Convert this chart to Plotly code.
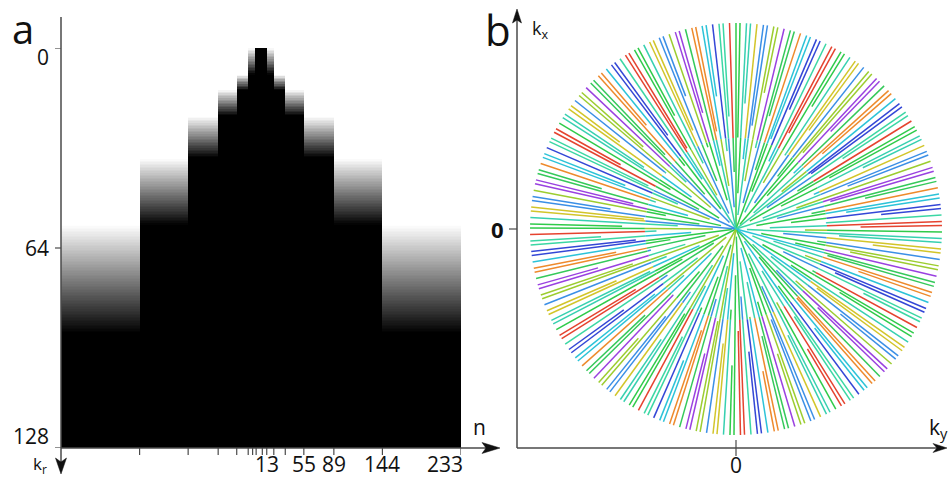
import numpy as np
import plotly.graph_objects as go

W, H = 948, 478

# ---- sampling blocks along the spoke index n (Fibonacci boundaries) ----
n_edges = [0, 13, 21, 34, 55, 89, 144, 233]
# k_r where each block begins to fade in, and where it becomes fully sampled
kr_fade_start = [0.0, 0.0, 8.6, 13.4, 22.0, 35.3, 56.6]
kr_fade_end = [0.0, 8.4, 13.4, 21.6, 35.0, 56.6, 91.2]
kr_max = 128
kr_split = 56.6  # inner / outer colouring boundary of a spoke

n_ticks = [-131, -76, -42, -21, -8, -3, 1, 8, 13, 21, 34, 55, 89, 144, 233]
n_tick_labels = [13, 55, 89, 144, 233]
kr_ticks = [0, 64, 128]

# spoke colours
outer_palette = ["#2fcb4a", "#e5432f", "#3bd7a4", "#3447d6", "#2cc3d8", "#ee8a2c",
                 "#35c95a", "#9a41e0", "#9ccd2f", "#3b8fe6", "#d2c52a", "#37d0b0"]
inner_palette = ["#2fcb4a", "#3bd7a4", "#2cc3d8", "#35c95a", "#9ccd2f",
                 "#2fcb4a", "#3b8fe6", "#37d0b0"]
GOLDEN_ANGLE = 180.0 * (3.0 - np.sqrt(5.0))

FONT = "Open Sans, Noto Sans, sans-serif"
AX = "#4a4a4a"
TXT = "#111111"


def px(x):
    return x / W


def py(y):
    return 1.0 - y / H


# ---- panel a: fading k_r coverage per block, mirrored about the centre ----
widths = np.diff(n_edges)
left_edges = [0]
for w in widths[1:]:
    left_edges.append(left_edges[-1] - w)
x_edges = list(reversed(left_edges))[:-1] + n_edges
col_block = list(range(len(widths) - 1, 0, -1)) + list(range(len(widths)))

step = 0.5
y_edges = np.arange(0, kr_max + step, step)
kr_c = (y_edges[:-1] + y_edges[1:]) / 2
z = np.zeros((len(kr_c), len(col_block)))
for j, b in enumerate(col_block):
    s, e = kr_fade_start[b], kr_fade_end[b]
    if e <= s:
        z[:, j] = np.where(kr_c < s, 1.0, 0.0)
    else:
        z[:, j] = np.clip((e - kr_c) / (e - s), 0, 1)

fig = go.Figure()
fig.add_trace(go.Heatmap(
    z=z, x=x_edges, y=y_edges, zmin=0, zmax=1,
    colorscale=[[0, "#000000"], [1, "#ffffff"]],
    showscale=False, hoverinfo="skip", xaxis="x", yaxis="y"))

# ---- panel b: radial spokes at golden-angle increments ----
segs = {}


def add_seg(col, r0, r1, th):
    xs, ys = segs.setdefault(col, ([], []))
    xs += [r0 * np.sin(th), r1 * np.sin(th), None]
    ys += [r0 * np.cos(th), r1 * np.cos(th), None]


for n in range(n_edges[-1]):
    b = int(np.searchsorted(n_edges, n, side="right") - 1)
    frac = (n - n_edges[b] + 0.5) / widths[b]
    r0 = kr_fade_start[b] + frac * (kr_fade_end[b] - kr_fade_start[b])
    th = np.deg2rad(n * GOLDEN_ANGLE)
    if r0 < kr_split:
        add_seg(inner_palette[(n * 3) % len(inner_palette)], r0, kr_split, th)
    add_seg(outer_palette[(n * 5) % len(outer_palette)], max(r0, kr_split), kr_max, th)

for col, (xs, ys) in segs.items():
    fig.add_trace(go.Scatter(x=xs, y=ys, mode="lines",
                             line=dict(color=col, width=1.5),
                             hoverinfo="skip", showlegend=False,
                             xaxis="x2", yaxis="y2"))

s2 = 206 / kr_max
hidden = dict(showgrid=False, zeroline=False, showticklabels=False,
              ticks="", showline=False, fixedrange=True)

fig.update_layout(
    width=W, height=H, margin=dict(l=0, r=0, t=0, b=0),
    paper_bgcolor="white", plot_bgcolor="white", showlegend=False,
    xaxis=dict(domain=[px(61), px(461)], range=[x_edges[0], x_edges[-1]], **hidden),
    yaxis=dict(domain=[py(448), py(48)], range=[kr_max, 0], **hidden),
    xaxis2=dict(domain=[px(517), 1.0], range=[(517 - 736) / s2, (948 - 736) / s2],
                anchor="y2", **hidden),
    yaxis2=dict(domain=[py(448), py(10)], range=[-(448 - 229) / s2, (229 - 10) / s2],
                anchor="x2", **hidden),
)

shapes = []


def pline(x0, y0, x1, y1, w=1.5):
    shapes.append(dict(type="line", xref="paper", yref="paper",
                       x0=px(x0), y0=py(y0), x1=px(x1), y1=py(y1),
                       line=dict(color=AX, width=w)))


def arrow(pts):
    path = "M " + " L ".join(f"{px(a):.5f},{py(b):.5f}" for a, b in pts) + " Z"
    shapes.append(dict(type="path", xref="paper", yref="paper", path=path,
                       fillcolor=TXT, line=dict(color=TXT, width=0.5)))


# panel a axes
pline(61, 17, 61, 462)
arrow([(61, 474), (55.5, 458), (61, 462), (66.5, 458)])
pline(61, 448, 488, 448)
arrow([(500, 448), (482, 442.5), (486, 448), (482, 453.5)])
for v in n_ticks:
    shapes.append(dict(type="line", xref="x", yref="paper", x0=v, x1=v,
                       y0=py(448), y1=py(455), line=dict(color=AX, width=1.2)))
for v in kr_ticks:
    shapes.append(dict(type="line", xref="paper", yref="y", x0=px(55), x1=px(61),
                       y0=v, y1=v, line=dict(color=AX, width=1.2)))

# panel b axes
pline(517, 448, 517, 19)
arrow([(517, 9), (512.5, 23), (517, 20), (521.5, 23)])
pline(517, 448, 937, 448)
arrow([(947, 448), (933, 443.5), (937, 448), (933, 452.5)])
shapes.append(dict(type="line", xref="paper", yref="y2", x0=px(509), x1=px(517),
                   y0=0, y1=0, line=dict(color=AX, width=1.2)))
shapes.append(dict(type="line", xref="x2", yref="paper", x0=0, x1=0,
                   y0=py(440), y1=py(456), line=dict(color=AX, width=1.2)))
fig.update_layout(shapes=shapes)

ann = []


def text(t, x, y, size, xanchor="center", yanchor="middle"):
    ann.append(dict(text=t, x=x, y=y, xref="paper", yref="paper", showarrow=False,
                    xanchor=xanchor, yanchor=yanchor, borderpad=0,
                    font=dict(family=FONT, size=size, color=TXT)))


text("a", px(23), py(28), 40)
text("b", px(498), py(29), 42)

# k_r tick labels
for v, shift in zip(kr_ticks, [-9, 0, 12]):
    ann.append(dict(text=str(v), x=px(50), y=v, xref="paper", yref="y",
                    showarrow=False, xanchor="right", yanchor="middle", yshift=shift,
                    borderpad=0, font=dict(family=FONT, size=21, color=TXT)))
# n tick labels
for v in n_tick_labels:
    anchor = "right" if v == n_tick_labels[-1] else "center"
    ann.append(dict(text=str(v), x=v, y=py(464), xref="x", yref="paper",
                    showarrow=False, xanchor=anchor, yanchor="middle",
                    xshift=3 if anchor == "right" else 0, borderpad=0,
                    font=dict(family=FONT, size=21, color=TXT)))

text("n", px(479), py(427), 21)
text("k<sub>r</sub>", px(40), py(478), 17, yanchor="bottom")

ann.append(dict(text="<b>0</b>", x=px(505), y=0, xref="paper", yref="y2",
                showarrow=False, xanchor="right", yanchor="middle", borderpad=0,
                font=dict(family=FONT, size=22, color=TXT)))
ann.append(dict(text="0", x=0, y=py(465), xref="x2", yref="paper",
                showarrow=False, xanchor="center", yanchor="middle", borderpad=0,
                font=dict(family=FONT, size=21, color=TXT)))
text("k<sub>x</sub>", px(540), py(29), 18)
text("k<sub>y</sub>", px(938), py(428), 21)

fig.update_layout(annotations=ann)
fig.write_html("out.html")
